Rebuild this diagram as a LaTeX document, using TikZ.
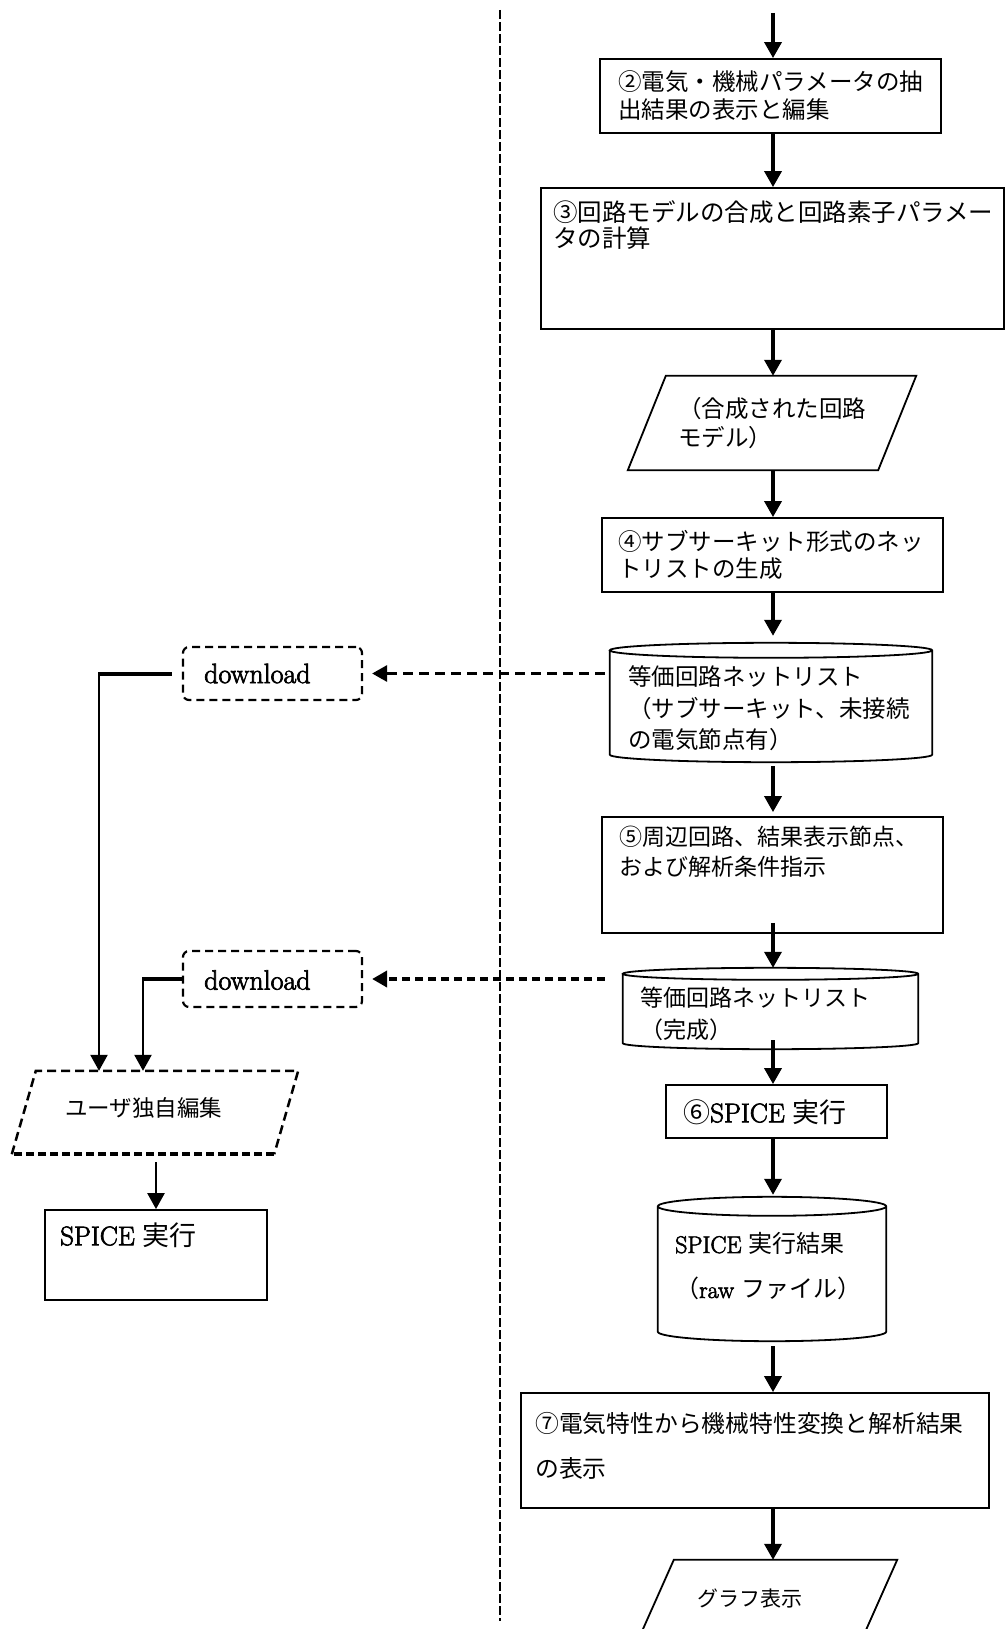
\documentclass[tikz,border=0pt]{standalone}
\usepackage{fontspec}
\newfontfamily\jp{Noto Sans CJK JP}
\newfontfamily\lat{Latin Modern Roman}[FakeBold=2.5]
\usetikzlibrary{arrows.meta,calc}
\newcommand\cylshape[2]{%
  \draw[line width=1.8pt] let \p1=(#1.north west), \p2=(#1.south east) in
    ({\x1},{\y1-#2pt}) -- ({\x1},{\y2+#2pt})
    arc[start angle=180,end angle=360,x radius={(\x2-\x1)/2},y radius=#2pt]
    -- ({\x2},{\y1-#2pt})
    arc[start angle=0,end angle=180,x radius={(\x2-\x1)/2},y radius=#2pt]
    arc[start angle=180,end angle=360,x radius={(\x2-\x1)/2},y radius=#2pt];}
\newcommand\parashape[3]{%
  \draw[#3] (#1.south west) -- ([xshift=#2pt]#1.north west) -- (#1.north east)
    -- ([xshift=-#2pt]#1.south east) -- cycle;}
\tikzset{
  procbox/.style={draw, line width=1.8pt, rectangle, inner sep=0pt},
  ghost/.style={rectangle, inner sep=0pt},
  dlbox/.style={draw, line width=2.2pt, dash pattern=on 8pt off 5pt, rounded corners=6pt, inner sep=0pt},
  flow/.style={line width=3.5pt, -{Triangle[length=16pt,width=17pt]}},
  thinflow/.style={line width=2.5pt, -{Triangle[length=16pt,width=17pt]}},
  dashone/.style={line width=3pt, dash pattern=on 10pt off 6pt, -{Triangle[length=15pt,width=16pt]}},
  dashtwo/.style={line width=4pt, dash pattern=on 8pt off 5pt, -{Triangle[length=15pt,width=16pt]}},
  txt/.style={anchor=west, inner sep=0pt, align=left},
}
\begin{document}
\begin{tikzpicture}[x=1pt,y=-1pt]
\fill[white] (0,0) rectangle (1006,1629);
\clip (0,0) rectangle (1006,1629);

% separator
\coordinate (vtop) at (500,10);
\coordinate (vbot) at (500,1621);
\draw[line width=2.3pt, dash pattern=on 9pt off 3pt] (vtop) -- (vbot);

% main column
\coordinate (col) at (773,0);
\coordinate (start) at (773,13);

\node[procbox, minimum width=341pt, minimum height=74pt] (b2) at (770.5,96) {};
\node[txt, font=\jp\fontsize{23.5}{28}\selectfont] (t2) at (618,96) {②電気・機械パラメータの抽\\出結果の表示と編集};

\node[procbox, minimum width=463pt, minimum height=141pt] (b3) at (772.5,258.5) {};
\node[txt, font=\jp\fontsize{24.5}{26}\selectfont] (t3) at (553,225.5) {③回路モデルの合成と回路素子パラメー\\タの計算};

\node[ghost, minimum width=288pt, minimum height=94pt] (p1) at (772,423) {};
\parashape{p1}{38}{line width=1.8pt}
\node[txt, font=\jp\fontsize{23.5}{29}\selectfont] (tp1) at (678,423.5) {（合成された回路\\モデル）};

\node[procbox, minimum width=341pt, minimum height=74pt] (b4) at (772.5,555) {};
\node[txt, font=\jp\fontsize{23.5}{27}\selectfont] (t4) at (618,554.5) {④サブサーキット形式のネッ\\トリストの生成};

\node[ghost, minimum width=322pt, minimum height=119pt] (c1) at (771,702.5) {};
\cylshape{c1}{7.5}
\node[txt, font=\jp\fontsize{23.5}{31.5}\selectfont] (tc1) at (628,708.5) {等価回路ネットリスト\\（サブサーキット、未接続\\の電気節点有）};

\node[procbox, minimum width=341pt, minimum height=116pt] (b5) at (772.5,875) {};
\node[txt, font=\jp\fontsize{23}{30}\selectfont] (t5) at (619,852) {⑤周辺回路、結果表示節点、\\および解析条件指示};

\node[ghost, minimum width=295pt, minimum height=81pt] (c2) at (770.5,1008.5) {};
\cylshape{c2}{6}
\node[txt, font=\jp\fontsize{23}{32}\selectfont] (tc2) at (640,1014) {等価回路ネットリスト\\（完成）};

\node[procbox, minimum width=221pt, minimum height=53pt] (b6) at (776.5,1111.5) {};
\node[txt, font=\lat\fontsize{27}{30}\selectfont] (t6) at (683,1112) {{\jp ⑥}SPICE {\jp 実行}};

\node[ghost, minimum width=228pt, minimum height=144pt] (c3) at (772,1269) {};
\cylshape{c3}{9.5}
\node[txt, font=\lat\fontsize{24}{45}\selectfont] (tc3) at (675,1266.5) {SPICE {\jp 実行結果}\\{\jp （}raw {\jp ファイル）}};

\node[procbox, minimum width=468pt, minimum height=115pt] (b7) at (755,1450.5) {};
\node[txt, font=\jp\fontsize{23.8}{45}\selectfont] (t7) at (535,1445.5) {⑦電気特性から機械特性変換と解析結果\\の表示};

\node[ghost, minimum width=265pt, minimum height=94pt] (p2) at (764.5,1607) {};
\parashape{p2}{42}{line width=1.8pt}
\node[txt, font=\jp\fontsize{21}{25}\selectfont] (tp2) at (697,1598) {グラフ表示};

% main arrows
\draw[flow] (start) -- (b2.north -| col);
\draw[flow] (b2.south -| col) -- (b3.north -| col);
\draw[flow] (b3.south -| col) -- (p1.north -| col);
\draw[flow] (p1.south -| col) -- (b4.north -| col);
\draw[flow, shorten >=7pt] (b4.south -| col) -- (c1.north -| col);
\draw[flow, shorten <=4pt, shorten >=4pt] (c1.south -| col) -- (b5.north -| col);
\draw[flow, shorten <=-11pt] (b5.south -| col) -- (c2.north -| col);
\draw[flow, shorten <=-9pt] (c2.south -| col) -- (b6.north -| col);
\draw[flow, shorten >=2pt] (b6.south -| col) -- (c3.north -| col);
\draw[flow, shorten <=5pt] (c3.south -| col) -- (b7.north -| col);
\draw[flow] (b7.south -| col) -- (p2.north -| col);

% left side
\node[dlbox, minimum width=179pt, minimum height=53pt] (dl1) at (272.5,673.5) {};
\node[txt, font=\lat\fontsize{28}{30}\selectfont] (tdl1) at (204,673.5) {download};
\node[dlbox, minimum width=179pt, minimum height=56pt] (dl2) at (272.5,979) {};
\node[txt, font=\lat\fontsize{28}{30}\selectfont] (tdl2) at (204,980) {download};

\node[ghost, minimum width=286pt, minimum height=83pt] (usr) at (155,1112.5) {};
\draw[line width=2.5pt, dash pattern=on 9pt off 5pt] (usr.south west) -- ([xshift=24pt]usr.north west) -- (usr.north east) -- ([xshift=-24pt]usr.south east);
\draw[line width=3.5pt, dash pattern=on 8pt off 4pt] ([xshift=-24pt]usr.south east) -- (usr.south west);
\node[txt, font=\jp\fontsize{22.5}{25}\selectfont] (tusr) at (65,1108) {ユーザ独自編集};

\node[procbox, minimum width=222pt, minimum height=90pt] (sp) at (156,1255) {};
\node[txt, font=\lat\fontsize{27}{30}\selectfont] (tsp) at (60,1235) {SPICE {\jp 実行}};

\draw[thinflow, shorten <=8pt] (usr.south -| sp.north) -- (sp.north);

% dashed download arrows
\draw[dashone, shorten <=5pt, shorten >=9pt] (c1.west |- dl1.east) -- (dl1.east);
\draw[dashtwo, shorten <=18pt, shorten >=9pt] (c2.west |- dl2.east) -- (dl2.east);

% connectors to user edit
\coordinate (k1) at (99,0);
\coordinate (k2) at (143,0);
\draw[line width=4pt] ([xshift=-10pt]dl1.west) -- ([xshift=-1.25pt]dl1.west -| k1);
\draw[thinflow] ([yshift=-2pt]dl1.west -| k1) -- (usr.north -| k1);
\draw[line width=4pt] (dl2.west) -- ([xshift=-1.25pt]dl2.west -| k2);
\draw[thinflow] ([yshift=-2pt]dl2.west -| k2) -- (usr.north -| k2);
\end{tikzpicture}
\end{document}
